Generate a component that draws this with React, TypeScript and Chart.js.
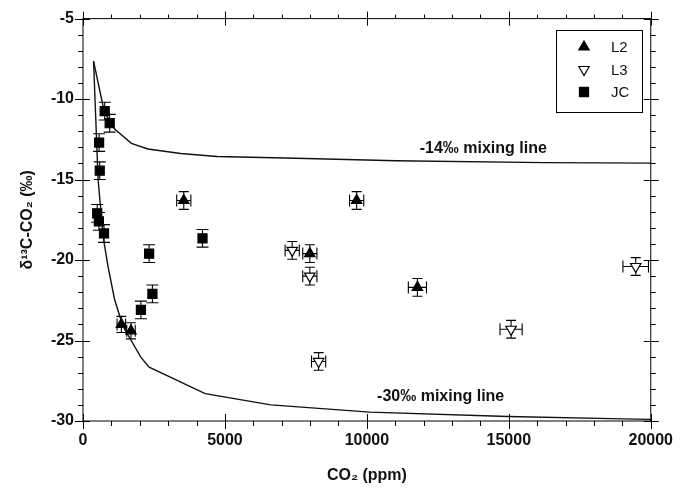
import React, { useEffect, useRef } from "react";
import { Chart, registerables } from "chart.js";

Chart.register(...registerables);

const FONT = '"Liberation Sans", Arial, Helvetica, sans-serif';

// ---- axis ticks ----
const xTickValues = [0, 5000, 10000, 15000, 20000];
const yTickValues = [-30, -25, -20, -15, -10, -5];

// ---- L2 (filled up-triangles) ----
const l2X = [3550, 7990, 9640, 11780, 1350, 1690];
const l2Y = [-16.3, -19.6, -16.3, -21.7, -24.0, -24.4];
const l2XErr = [250, 250, 250, 320, 150, 150];
const l2YErr = [0.55, 0.55, 0.55, 0.55, 0.5, 0.5];

// ---- L3 (open down-triangles) ----
const l3X = [7370, 7990, 8300, 15080, 19470];
const l3Y = [-19.4, -21.0, -26.3, -24.3, -20.4];
const l3XErr = [250, 250, 250, 390, 450];
const l3YErr = [0.55, 0.55, 0.55, 0.55, 0.55];

// ---- JC (filled squares) ----
const jcX = [765, 940, 567, 590, 500, 560, 740, 2330, 2445, 2040, 4210];
const jcY = [-10.75, -11.5, -12.7, -14.45, -17.1, -17.6, -18.35, -19.6, -22.1, -23.1, -18.65];
const jcXErr = [0, 0, 0, 0, 0, 0, 0, 0, 0, 0, 0];
const jcYErr = [0.55, 0.55, 0.55, 0.55, 0.55, 0.55, 0.55, 0.55, 0.55, 0.55, 0.55];

// ---- mixing lines ----
const mix14X = [372, 750, 1124, 1704, 2285, 3443, 4720, 7500, 11026, 16243, 20000];
const mix14Y = [-7.65, -10.8, -11.87, -12.75, -13.1, -13.38, -13.57, -13.68, -13.83, -13.95, -13.98];
const mix30X = [372, 532, 706, 880, 1113, 1402, 2042, 2330, 4303, 6620, 10100, 14970, 19030, 20000];
const mix30Y = [-7.65, -15.0, -18.5, -20.4, -22.45, -24.1, -26.05, -26.65, -28.3, -29.0, -29.45, -29.72, -29.87, -29.9];

const mixLabels = ["-14‰ mixing line", "-30‰ mixing line"];
const mixLabelPos = [
  [14100, -13.05],
  [12600, -28.5],
];

const zip = (xs: number[], ys: number[]) => xs.map((x, i) => ({ x, y: ys[i] }));

const series = [
  { label: "L2", x: l2X, y: l2Y, ex: l2XErr, ey: l2YErr, style: "triangle", rot: 0, fill: "#000", r: 6, cap: 5 },
  { label: "L3", x: l3X, y: l3Y, ex: l3XErr, ey: l3YErr, style: "triangle", rot: 180, fill: "#fff", r: 6, cap: 5 },
  { label: "JC", x: jcX, y: jcY, ex: jcXErr, ey: jcYErr, style: "rect", rot: 0, fill: "#000", r: 6.4, cap: 6 },
];

function drawMarker(ctx: CanvasRenderingContext2D, s: any, x: number, y: number) {
  ctx.save();
  ctx.fillStyle = s.fill;
  ctx.strokeStyle = "#000";
  ctx.lineWidth = 1.2;
  ctx.beginPath();
  if (s.style === "rect") {
    const h = s.r * Math.SQRT1_2;
    ctx.rect(x - h, y - h, 2 * h, 2 * h);
  } else {
    let rad = (s.rot * Math.PI) / 180;
    ctx.moveTo(x + Math.sin(rad) * s.r, y - Math.cos(rad) * s.r);
    rad += (2 * Math.PI) / 3;
    ctx.lineTo(x + Math.sin(rad) * s.r, y - Math.cos(rad) * s.r);
    rad += (2 * Math.PI) / 3;
    ctx.lineTo(x + Math.sin(rad) * s.r, y - Math.cos(rad) * s.r);
    ctx.closePath();
  }
  ctx.fill();
  ctx.stroke();
  ctx.restore();
}

const decorPlugin = {
  id: "decor",
  beforeDatasetsDraw(chart: any) {
    const { ctx, scales } = chart;
    const xs = scales.x;
    const ys = scales.y;
    ctx.save();
    ctx.strokeStyle = "#000";
    ctx.lineWidth = 1.1;
    series.forEach((s) => {
      s.x.forEach((xv: number, i: number) => {
        const px = xs.getPixelForValue(xv);
        const py = ys.getPixelForValue(s.y[i]);
        const ey = s.ey[i];
        const ex = s.ex[i];
        ctx.beginPath();
        if (ey > 0) {
          const y1 = ys.getPixelForValue(s.y[i] + ey);
          const y2 = ys.getPixelForValue(s.y[i] - ey);
          ctx.moveTo(px, y1);
          ctx.lineTo(px, y2);
          ctx.moveTo(px - s.cap, y1);
          ctx.lineTo(px + s.cap, y1);
          ctx.moveTo(px - s.cap, y2);
          ctx.lineTo(px + s.cap, y2);
        }
        if (ex > 0) {
          const x1 = xs.getPixelForValue(xv - ex);
          const x2 = xs.getPixelForValue(xv + ex);
          ctx.moveTo(x1, py);
          ctx.lineTo(x2, py);
          ctx.moveTo(x1, py - 6);
          ctx.lineTo(x1, py + 6);
          ctx.moveTo(x2, py - 6);
          ctx.lineTo(x2, py + 6);
        }
        ctx.stroke();
      });
    });
    ctx.restore();
  },
  afterDatasetsDraw(chart: any) {
    const { ctx, scales, chartArea } = chart;
    const xs = scales.x;
    const ys = scales.y;
    const { left, right, top, bottom } = chartArea;
    ctx.save();
    ctx.strokeStyle = "#000";
    ctx.lineWidth = 1;
    ctx.strokeRect(left, top, right - left, bottom - top);
    ctx.beginPath();
    for (let v = 0; v <= 20000; v += 1000) {
      const px = Math.round(xs.getPixelForValue(v)) + 0.5;
      const major = v % 5000 === 0;
      ctx.moveTo(px, bottom + (major ? 8 : 5));
      ctx.lineTo(px, major ? bottom - 7 : bottom);
      ctx.moveTo(px, top - (major ? 7 : 4));
      ctx.lineTo(px, major ? top + 7 : top);
    }
    for (let v = -30; v <= -5; v += 1) {
      const py = Math.round(ys.getPixelForValue(v)) + 0.5;
      const major = v % 5 === 0;
      ctx.moveTo(left - (major ? 8 : 5), py);
      ctx.lineTo(major ? left + 7 : left, py);
      ctx.moveTo(right + (major ? 8 : 5), py);
      ctx.lineTo(major ? right - 7 : right, py);
    }
    ctx.stroke();

    // mixing line labels
    ctx.fillStyle = "#111";
    ctx.font = `bold 16px ${FONT}`;
    ctx.textAlign = "center";
    ctx.textBaseline = "middle";
    mixLabels.forEach((t, i) => {
      ctx.fillText(t, xs.getPixelForValue(mixLabelPos[i][0]), ys.getPixelForValue(mixLabelPos[i][1]));
    });

    // legend box
    const lx = 556;
    const ly = 30;
    const lw = 86;
    const lh = 82;
    ctx.fillStyle = "#fff";
    ctx.fillRect(lx, ly, lw, lh);
    ctx.strokeRect(lx + 0.5, ly + 0.5, lw, lh);
    ctx.font = `15px ${FONT}`;
    ctx.textAlign = "left";
    ctx.fillStyle = "#111";
    series.forEach((s, i) => {
      const yy = ly + 17 + i * 22.5;
      drawMarker(ctx, s, lx + 28, yy);
      ctx.fillText(s.label, lx + 55, yy + 1);
    });
    ctx.restore();
  },
};

export default function App() {
  const ref = useRef<HTMLCanvasElement | null>(null);
  useEffect(() => {
    document.body.style.margin = "0";
    const canvas = ref.current;
    if (!canvas) return;
    const pointDatasets = series.map((s) => ({
      label: s.label,
      data: zip(s.x, s.y),
      pointStyle: s.style as any,
      rotation: s.rot,
      pointRadius: s.r,
      pointHoverRadius: s.r,
      backgroundColor: s.fill,
      borderColor: "#000",
      borderWidth: 1.2,
      showLine: false,
      order: 1,
    }));
    const lineDatasets = [
      { label: "-14 mixing", data: zip(mix14X, mix14Y) },
      { label: "-30 mixing", data: zip(mix30X, mix30Y) },
    ].map((d) => ({
      ...d,
      showLine: true,
      pointRadius: 0,
      borderColor: "#111",
      borderWidth: 1.4,
      tension: 0,
      fill: false,
      order: 2,
    }));
    const chart = new Chart(canvas, {
      type: "scatter",
      data: { datasets: [...pointDatasets, ...lineDatasets] as any },
      options: {
        animation: false,
        responsive: false,
        maintainAspectRatio: false,
        layout: { padding: { top: 17, right: 24, left: 0, bottom: 0 } },
        plugins: { legend: { display: false }, tooltip: { enabled: false } },
        scales: {
          x: {
            type: "linear",
            min: 0,
            max: 20000,
            afterBuildTicks: (axis: any) => {
              axis.ticks = xTickValues.map((v) => ({ value: v }));
            },
            afterFit: (axis: any) => {
              axis.height = 68;
            },
            grid: { display: false, drawTicks: false },
            border: { display: false },
            ticks: {
              color: "#111",
              font: { family: FONT, size: 16, weight: "bold" },
              padding: 10,
              maxRotation: 0,
              callback: (v: any) => String(v),
            },
            title: {
              display: true,
              text: "CO₂ (ppm)",
              color: "#111",
              font: { family: FONT, size: 16, weight: "bold" },
              padding: { top: 4, bottom: 4 },
            },
          },
          y: {
            type: "linear",
            min: -30,
            max: -5,
            afterBuildTicks: (axis: any) => {
              axis.ticks = yTickValues.map((v) => ({ value: v }));
            },
            afterFit: (axis: any) => {
              axis.width = 83;
            },
            grid: { display: false, drawTicks: false },
            border: { display: false },
            ticks: {
              color: "#111",
              font: { family: FONT, size: 16, weight: "bold" },
              padding: 9,
              callback: (v: any) => String(v),
            },
            title: {
              display: true,
              text: "δ¹³C-CO₂ (‰)",
              color: "#111",
              font: { family: FONT, size: 16, weight: "bold" },
              padding: { top: 18, bottom: 4 },
            },
          },
        },
      },
      plugins: [decorPlugin],
    });
    return () => chart.destroy();
  }, []);
  return <canvas ref={ref} width={683} height={489} style={{ display: "block", width: 683, height: 489 }} />;
}
